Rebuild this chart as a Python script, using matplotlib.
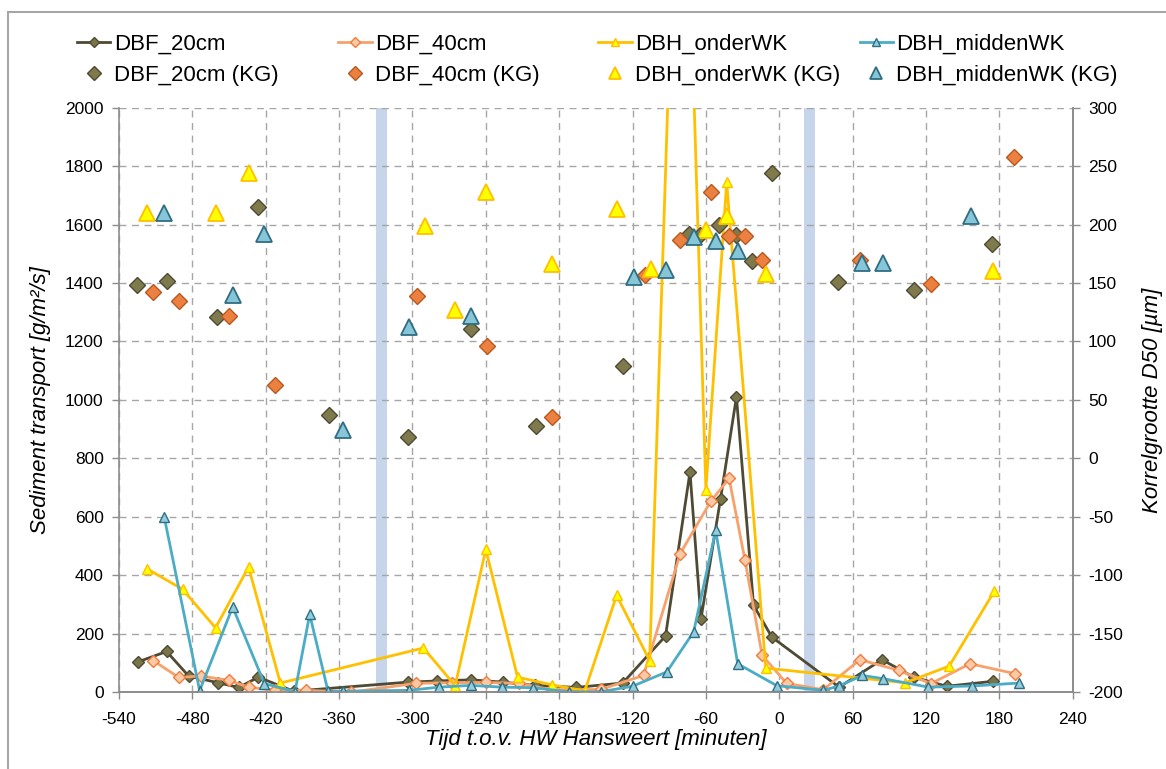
import numpy as np
import matplotlib
matplotlib.use('Agg')
import matplotlib.pyplot as plt
from matplotlib.patches import Rectangle

plt.rcParams['font.family'] = ['Liberation Sans', 'DejaVu Sans']
plt.rcParams['axes.unicode_minus'] = False

# sediment transport (left axis), time in minutes relative to HW Hansweert
t_20 = [-524, -501, -483, -459, -442, -426, -397, -304, -280, -252, -226, -200, -166,
        -128, -93, -73, -64, -48, -35, -21, -6, 49, 84, 110, 137, 175]
v_20 = [104, 139, 55, 32, 16, 51, 3, 34, 38, 42, 34, 23, 16,
        31, 192, 753, 251, 662, 1010, 297, 188, 17, 111, 51, 20, 37]

t_40 = [-512, -491, -473, -450, -434, -412, -387, -350, -297, -268, -240, -213, -186,
        -146, -111, -81, -56, -41, -28, -14, 6, 36, 66, 98, 124, 156, 193]
v_40 = [108, 50, 55, 40, 17, 6, 6, 0, 30, 32, 33, 30, 8,
        9, 57, 474, 653, 731, 451, 126, 30, 8, 111, 74, 29, 97, 63]

t_onder = [-517, -488, -461, -434, -408, -291, -265, -240, -214, -186, -159, -133,
           -106, -80, -60, -43, -11, 103, 139, 176]
v_onder = [422, 352, 220, 428, 31, 151, 22, 488, 51, 25, 4, 331,
           108, 3450, 693, 1744, 82, 32, 89, 346]

t_midden = [-503, -474, -447, -421, -396, -384, -369, -357, -303, -278, -252, -227,
            -201, -172, -146, -120, -92, -70, -52, -34, -2, 36, 49, 68, 85, 122, 158, 196]
v_midden = [600, 5, 291, 29, 2, 266, 3, 3, 6, 17, 23, 17,
            15, 1, 1, 20, 69, 206, 554, 97, 22, 6, 21, 57, 46, 17, 21, 31]

# grain size D50 (right axis)
kt_20 = [-525, -501, -460, -426, -368, -304, -252, -199, -128, -74, -65, -49, -35,
         -22, -6, 48, 110, 174]
kg_20 = [148, 152, 121, 215, 37, 18, 111, 28, 79, 192, 191, 200, 191,
         169, 244, 151, 144, 183]

kt_40 = [-512, -491, -450, -412, -296, -239, -186, -110, -81, -56, -41, -28, -14,
         66, 124, 192]
kg_40 = [142, 135, 122, 63, 139, 96, 35, 157, 187, 228, 190, 190, 170,
         170, 149, 258]

kt_onder = [-517, -461, -434, -290, -265, -240, -186, -133, -105, -60, -43, -11, 175]
kg_onder = [210, 210, 244, 199, 127, 228, 166, 213, 162, 195, 207, 158, 160]

kt_midden = [-503, -447, -421, -357, -303, -252, -119, -93, -70, -52, -34, 68, 85, 157]
kg_midden = [210, 140, 192, 24, 112, 122, 155, 161, 189, 186, 177, 167, 167, 207]

# periods marked in blue
bands = [(-330, -321), (20, 29)]

fig = plt.figure(figsize=(11.66, 7.69), dpi=100)
fig.patches.append(Rectangle((0.007, -0.01), 1.0, 0.994, transform=fig.transFigure,
                             fill=False, edgecolor='#a6a6a6', linewidth=1.5))

ax = fig.add_axes([0.102, 0.100, 0.818, 0.760])
ax2 = ax.twinx()

gray = '#8c8c8c'
for a, b in bands:
    ax.axvspan(a, b, color='#c6d5ea', zorder=0, linewidth=0)

l1, = ax.plot(t_20, v_20, color='#4f4a33', lw=2, marker='D', ms=6,
              mfc='#7a7548', mec='#4f4a33', zorder=3)
l2, = ax.plot(t_40, v_40, color='#f7a16c', lw=2, marker='D', ms=6,
              mfc='#fbc9a6', mec='#f07c3c', zorder=3)
l3, = ax.plot(t_onder, v_onder, color='#ffc000', lw=2, marker='^', ms=7,
              mfc='#ffff00', mec='#ffc000', zorder=3)
l4, = ax.plot(t_midden, v_midden, color='#4bacc6', lw=2, marker='^', ms=7,
              mfc='#93cddd', mec='#2f6e82', zorder=3)

k1, = ax2.plot(kt_20, kg_20, ls='none', marker='D', ms=8.5,
               mfc='#7f7a4c', mec='#4f4a33', mew=1)
k2, = ax2.plot(kt_40, kg_40, ls='none', marker='D', ms=8.5,
               mfc='#ec8040', mec='#b8581e', mew=1)
k3, = ax2.plot(kt_onder, kg_onder, ls='none', marker='^', ms=11,
               mfc='#ffff00', mec='#ffc000', mew=1.3)
k4, = ax2.plot(kt_midden, kg_midden, ls='none', marker='^', ms=11,
               mfc='#86c6d8', mec='#2f6e82', mew=1.3)

ax.set_xlim(-540, 240)
ax.set_ylim(0, 2000)
ax2.set_ylim(-200, 300)
ax.set_xticks(np.arange(-540, 241, 60))
ax.set_yticks(np.arange(0, 2001, 200))
ax2.set_yticks(np.arange(-200, 301, 50))

ax.set_axisbelow(True)
ax.grid(True, color='#a6a6a6', linestyle=(0, (5, 4)), linewidth=1)

for a in (ax, ax2):
    a.spines['top'].set_visible(False)
    for s in ('left', 'right', 'bottom'):
        a.spines[s].set_color(gray)
        a.spines[s].set_linewidth(1.2)
    a.tick_params(colors=gray, labelcolor='black', labelsize=12.5, length=5, width=1, pad=6)
ax2.spines['left'].set_visible(False)
ax.tick_params(axis='x', pad=9)

ax.set_xlabel('Tijd t.o.v. HW Hansweert [minuten]', fontsize=16, style='italic', labelpad=2)
ax.set_ylabel('Sediment transport [g/m²/s]', fontsize=16, style='italic', labelpad=10)
ax2.set_ylabel('Korrelgrootte D50 [µm]', fontsize=16, style='italic', rotation=90, labelpad=14)

# legend: one block per series, line on top row and grain size below
xs = [0.049, 0.273, 0.496, 0.720]
for x, h, k, name in zip(xs, [l1, l2, l3, l4], [k1, k2, k3, k4],
                         ['DBF_20cm', 'DBF_40cm', 'DBH_onderWK', 'DBH_middenWK']):
    fig.legend([h, k], [name, name + ' (KG)'], loc='upper left', bbox_to_anchor=(x, 0.982),
               frameon=False, fontsize=16, handlelength=1.5, handletextpad=0.15,
               labelspacing=0.45, markerscale=0.85)

fig.savefig('out.png', dpi=100)
